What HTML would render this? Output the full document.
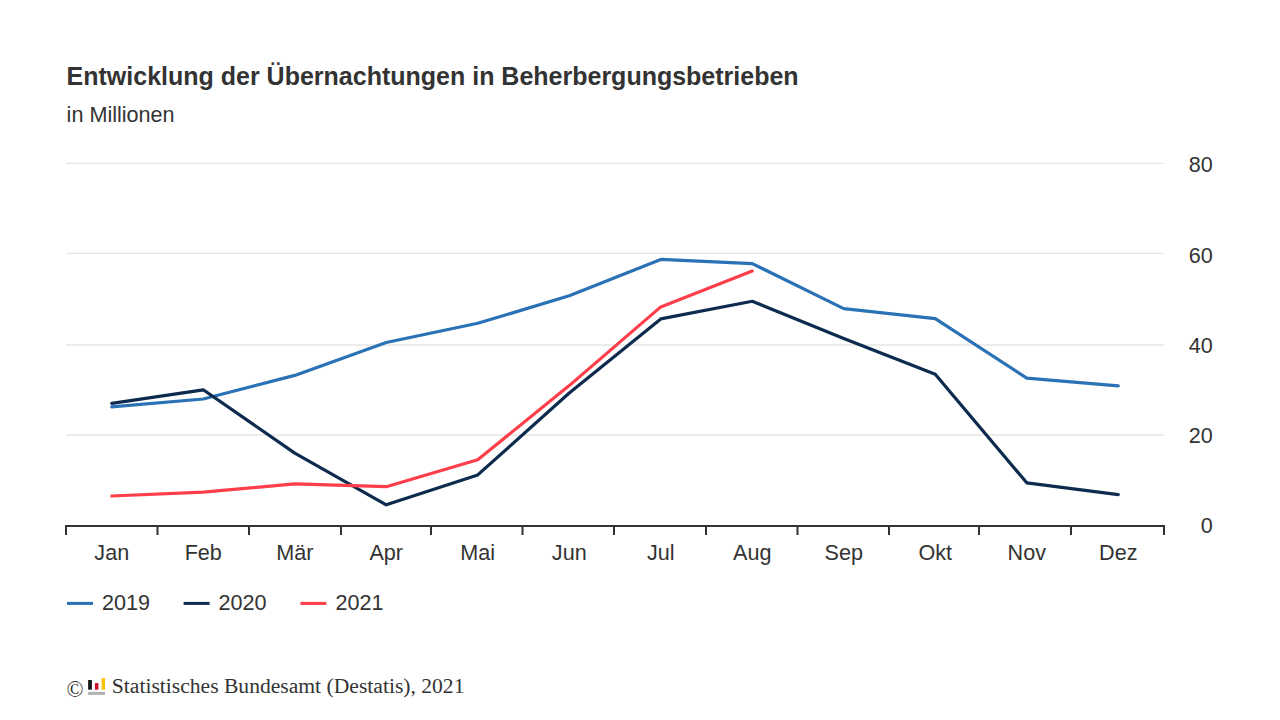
<!DOCTYPE html>
<html lang="de"><head><meta charset="utf-8"><title>Entwicklung der Übernachtungen in Beherbergungsbetrieben</title>
<style>
html,body{margin:0;padding:0;background:#fff;}
body{width:1280px;height:720px;overflow:hidden;position:relative;font-family:"Liberation Sans",Arial,sans-serif;}
svg{position:absolute;left:0;top:0;}
.t{font-family:"Liberation Sans",Arial,sans-serif;fill:#333;}
.s{font-family:"Liberation Serif","Times New Roman",serif;fill:#333;}
</style></head><body>
<svg width="1280" height="720" viewBox="0 0 1280 720">
<text class="t" x="66.6" y="84.9" font-size="25" font-weight="bold">Entwicklung der Übernachtungen in Beherbergungsbetrieben</text>
<text class="t" x="66.6" y="121.75" font-size="21.6">in Millionen</text>
<line x1="66" x2="1164" y1="163.30" y2="163.30" stroke="#e6e6e6" stroke-width="1.2"/>
<line x1="66" x2="1164" y1="253.40" y2="253.40" stroke="#e6e6e6" stroke-width="1.2"/>
<line x1="66" x2="1164" y1="345.00" y2="345.00" stroke="#e6e6e6" stroke-width="1.6"/>
<line x1="66" x2="1164" y1="435.00" y2="435.00" stroke="#e6e6e6" stroke-width="1.6"/>
<line x1="65" x2="1165" y1="526" y2="526" stroke="#333" stroke-width="2"/>
<line x1="66.00" x2="66.00" y1="525" y2="535" stroke="#333" stroke-width="2"/>
<line x1="157.50" x2="157.50" y1="525" y2="535" stroke="#333" stroke-width="2"/>
<line x1="249.00" x2="249.00" y1="525" y2="535" stroke="#333" stroke-width="2"/>
<line x1="341.00" x2="341.00" y1="525" y2="535" stroke="#333" stroke-width="2"/>
<line x1="431.00" x2="431.00" y1="525" y2="535" stroke="#333" stroke-width="2"/>
<line x1="522.50" x2="522.50" y1="525" y2="535" stroke="#333" stroke-width="2"/>
<line x1="614.00" x2="614.00" y1="525" y2="535" stroke="#333" stroke-width="2"/>
<line x1="706.00" x2="706.00" y1="525" y2="535" stroke="#333" stroke-width="2"/>
<line x1="797.50" x2="797.50" y1="525" y2="535" stroke="#333" stroke-width="2"/>
<line x1="889.00" x2="889.00" y1="525" y2="535" stroke="#333" stroke-width="2"/>
<line x1="979.00" x2="979.00" y1="525" y2="535" stroke="#333" stroke-width="2"/>
<line x1="1071.00" x2="1071.00" y1="525" y2="535" stroke="#333" stroke-width="2"/>
<line x1="1164.00" x2="1164.00" y1="525" y2="535" stroke="#333" stroke-width="2"/>
<text class="t" x="1212.8" y="171.80" font-size="21.6" text-anchor="end">80</text>
<text class="t" x="1212.8" y="262.80" font-size="21.6" text-anchor="end">60</text>
<text class="t" x="1212.8" y="352.90" font-size="21.6" text-anchor="end">40</text>
<text class="t" x="1212.8" y="442.90" font-size="21.6" text-anchor="end">20</text>
<text class="t" x="1212.8" y="532.90" font-size="21.6" text-anchor="end">0</text>
<text class="t" x="111.75" y="559.8" font-size="21.6" text-anchor="middle">Jan</text>
<text class="t" x="203.25" y="559.8" font-size="21.6" text-anchor="middle">Feb</text>
<text class="t" x="294.75" y="559.8" font-size="21.6" text-anchor="middle">Mär</text>
<text class="t" x="386.25" y="559.8" font-size="21.6" text-anchor="middle">Apr</text>
<text class="t" x="477.75" y="559.8" font-size="21.6" text-anchor="middle">Mai</text>
<text class="t" x="569.25" y="559.8" font-size="21.6" text-anchor="middle">Jun</text>
<text class="t" x="660.75" y="559.8" font-size="21.6" text-anchor="middle">Jul</text>
<text class="t" x="752.25" y="559.8" font-size="21.6" text-anchor="middle">Aug</text>
<text class="t" x="843.75" y="559.8" font-size="21.6" text-anchor="middle">Sep</text>
<text class="t" x="935.25" y="559.8" font-size="21.6" text-anchor="middle">Okt</text>
<text class="t" x="1026.75" y="559.8" font-size="21.6" text-anchor="middle">Nov</text>
<text class="t" x="1118.25" y="559.8" font-size="21.6" text-anchor="middle">Dez</text>
<polyline points="111.75,406.90 203.25,399.00 294.75,375.40 386.25,342.50 477.75,323.30 569.25,295.80 660.75,259.40 752.25,263.60 843.75,308.60 935.25,318.60 1026.75,378.10 1118.25,385.80" fill="none" stroke="#2a72b5" stroke-width="3.2" stroke-linejoin="round" stroke-linecap="round"/>
<polyline points="111.75,403.30 203.25,389.80 294.75,453.10 386.25,504.80 477.75,474.90 569.25,393.00 660.75,318.90 752.25,301.30 843.75,338.60 935.25,374.20 1026.75,482.80 1118.25,494.60" fill="none" stroke="#0d2b4e" stroke-width="3.2" stroke-linejoin="round" stroke-linecap="round"/>
<polyline points="111.75,496.00 203.25,492.20 294.75,483.80 386.25,486.70 477.75,459.70 569.25,385.60 660.75,306.90 752.25,271.10" fill="none" stroke="#fe3e4a" stroke-width="3.2" stroke-linejoin="round" stroke-linecap="round"/>
<line x1="67.00" x2="93.00" y1="603.4" y2="603.4" stroke="#2a72b5" stroke-width="3"/>
<text class="t" x="102.00" y="610" font-size="21.6">2019</text>
<line x1="183.60" x2="209.60" y1="603.4" y2="603.4" stroke="#0d2b4e" stroke-width="3"/>
<text class="t" x="218.60" y="610" font-size="21.6">2020</text>
<line x1="300.40" x2="326.40" y1="603.4" y2="603.4" stroke="#fe3e4a" stroke-width="3"/>
<text class="t" x="335.40" y="610" font-size="21.6">2021</text>
<text class="s" x="66.6" y="697.1" font-size="22.4" fill="#444">©</text>
<rect x="88.1" y="680" width="3.8" height="9.7" fill="#1a1a1a"/>
<rect x="94.9" y="683.1" width="3.5" height="6.6" fill="#d40d2e"/>
<rect x="101.6" y="678.1" width="3.4" height="11.6" fill="#fcc300"/>
<rect x="88.1" y="691.9" width="16.9" height="3" fill="#b0b0b0"/>
<text class="s" x="111.8" y="692.8" font-size="21.6">Statistisches Bundesamt (Destatis), 2021</text>
</svg>
</body></html>
